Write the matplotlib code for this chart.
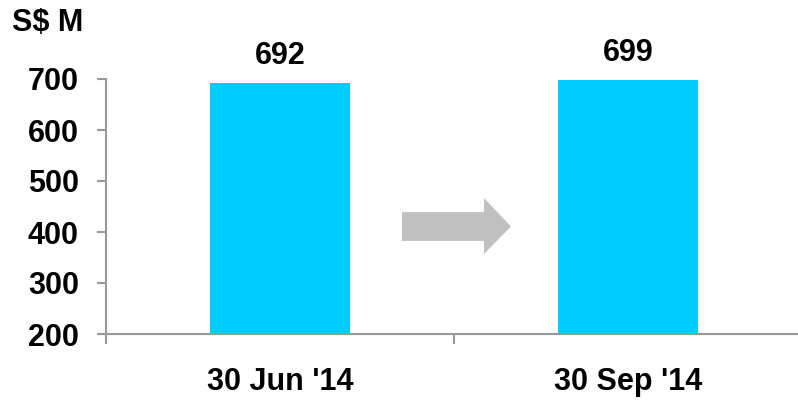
import matplotlib
matplotlib.use("Agg")
import matplotlib.pyplot as plt
from matplotlib.patches import Polygon

categories = ["30 Jun '14", "30 Sep '14"]
values = [692, 699]
yticks = [200, 300, 400, 500, 600, 700]
unit_label = "S$ M"

plt.rcParams['font.family'] = ['Liberation Sans', 'DejaVu Sans']
plt.rcParams['font.weight'] = 'bold'

fig = plt.figure(figsize=(7.98, 4.0), dpi=100)
ax = fig.add_axes([106/798, 66/400, 696/798, 255/400])

x = list(range(len(categories)))
ax.bar(x, values, width=0.4, color='#00CCFF', zorder=2)

ax.set_xlim(-0.5, len(categories) - 0.5)
ax.set_ylim(200, 700)
ax.set_yticks(yticks)
ax.set_yticklabels([str(t) for t in yticks], fontsize=22, fontweight='bold')
ax.set_xticks(x)
ax.set_xticklabels(categories, fontsize=22, fontweight='bold')
ax.set_xticks([i - 0.5 for i in range(len(categories))], minor=True)

for s in ['top', 'right']:
    ax.spines[s].set_visible(False)
for s in ['left', 'bottom']:
    ax.spines[s].set_color('#999999')
    ax.spines[s].set_linewidth(1.5)
    ax.spines[s].set_zorder(3)
ax.spines['bottom'].set_bounds(-0.5, len(categories) - 0.5)

ax.tick_params(axis='y', which='major', length=6.5, width=1.5, color='#999999', pad=13)
ax.tick_params(axis='x', which='major', length=0, pad=23.5)
ax.tick_params(axis='x', which='minor', length=7, width=1.5, color='#999999')

for xi, v in zip(x, values):
    ax.annotate(str(v), (xi, v), xytext=(0, 13.5), textcoords='offset points',
                ha='center', va='baseline', fontsize=22, fontweight='bold',
                annotation_clip=False)

arrow = Polygon([(0.4253, 0.478), (0.5431, 0.478), (0.5431, 0.533), (0.5819, 0.4215),
                 (0.5431, 0.314), (0.5431, 0.365), (0.4253, 0.365)],
                closed=True, transform=ax.transAxes, facecolor='#C0C0C0',
                edgecolor='none', zorder=2)
ax.add_patch(arrow)

fig.text(12/798, 1 - 23/400, unit_label, ha='left', va='center', fontsize=22, fontweight='bold')

fig.savefig('out.png', dpi=100)
